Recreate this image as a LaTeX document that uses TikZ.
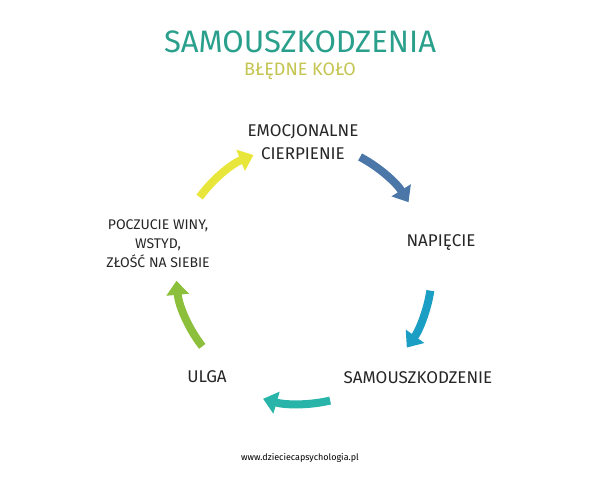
\documentclass[tikz,border=0pt]{standalone}
\usepackage{fontspec}
\setmainfont{Fira Sans}
\usetikzlibrary{arrows.meta}
\definecolor{cA}{RGB}{74,118,168}
\definecolor{cB}{RGB}{26,158,196}
\definecolor{cC}{RGB}{40,180,168}
\definecolor{cD}{RGB}{140,192,60}
\definecolor{cE}{RGB}{232,230,58}
\definecolor{cT}{RGB}{42,160,140}
\definecolor{cS}{RGB}{196,196,80}
\begin{document}
\begin{tikzpicture}[x=1pt,y=1pt,
  lab/.style={font=\fontsize{17}{23}\selectfont, text=black!85, align=center},
  arr/.style={line width=8pt, -{Triangle[length=14pt,width=22pt]}}]
\useasboundingbox (0,0) rectangle (600,-480);
\coordinate (O) at (300,-270);
\node[font=\fontsize{31}{34}\selectfont, text=cT] (title) at (300,-42) {SAMOUSZKODZENIA};
\node[font=\fontsize{18}{20}\selectfont, text=cS] (sub) at (300,-71) {BŁĘDNE KOŁO};
\node[lab] (n1) at (303,-142) {EMOCJONALNE\\CIERPIENIE};
\node[lab] (n2) at (441,-243) {NAPIĘCIE};
\node[lab] (n3) at (418,-378) {SAMOUSZKODZENIE};
\node[lab] (n4) at (207,-377) {ULGA};
\node[lab, font=\fontsize{14}{19}\selectfont] (n5) at (158,-244) {POCZUCIE WINY,\\WSTYD,\\ZŁOŚĆ NA SIEBIE};
\draw[arr, cA] (O) ++(62:128) arc[start angle=62, end angle=32, radius=128];
\draw[arr, cB] (O) ++(-9:132) arc[start angle=-9, end angle=-36, radius=132];
\draw[arr, cC] (O) ++(-77:134) arc[start angle=-77, end angle=-106, radius=134];
\draw[arr, cD] (O) ++(-142:124) arc[start angle=-142, end angle=-175, radius=124];
\draw[arr, cE] (O) ++(144:124) arc[start angle=144, end angle=112, radius=124];
\node[font=\fontsize{9}{11}\selectfont] (web) at (300,-458) {www.dzieciecapsychologia.pl};
\end{tikzpicture}
\end{document}
